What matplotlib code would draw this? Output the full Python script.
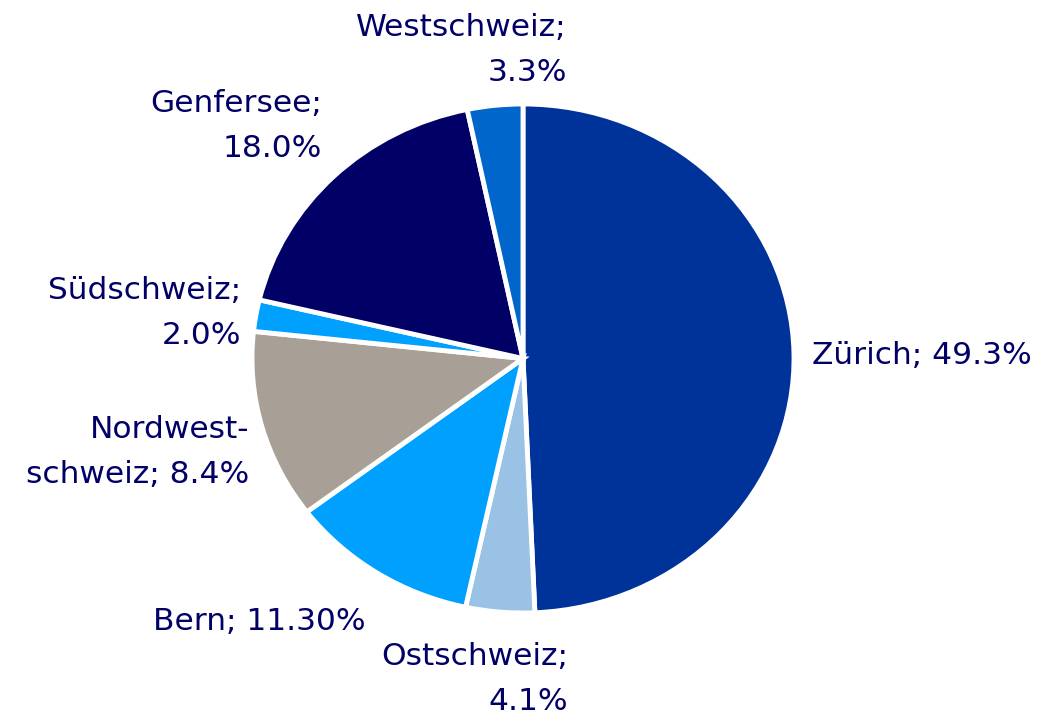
import matplotlib
matplotlib.use('Agg')
import matplotlib.pyplot as plt

# slice values (drawn) and the label texts as printed on the chart
regions = ['Zürich', 'Ostschweiz', 'Bern', 'Nordwestschweiz', 'Südschweiz', 'Genfersee', 'Westschweiz']
shares = [49.3, 4.1, 11.3, 12.0, 2.0, 18.0, 3.3]
label_texts = ['Zürich; 49.3%', 'Ostschweiz;\n4.1%', 'Bern; 11.30%', 'Nordwest-\nschweiz; 8.4%',
               'Südschweiz;\n2.0%', 'Genfersee;\n18.0%', 'Westschweiz;\n3.3%']
colors = ['#003399', '#99C2E4', '#00A0FF', '#A8A097', '#00A0FF', '#000066', '#0066CC']

text_color = '#000066'
W, H = 1041, 715

fig = plt.figure(figsize=(W / 100, H / 100), dpi=100)

# pie is slightly wider than tall in the original, so use an auto-aspect axes
cx, cy, rx, ry = 523, 358.5, 271, 254.5
ax = fig.add_axes([(cx - rx) / W, (H - cy - ry) / H, 2 * rx / W, 2 * ry / H])
ax.pie(shares, colors=colors, startangle=90, counterclock=False, radius=1,
       wedgeprops=dict(edgecolor='white', linewidth=3.5))
ax.set_aspect('auto')
ax.set_xlim(-1, 1)
ax.set_ylim(-1, 1)
ax.axis('off')

# label placement in pixels (x, y center, horizontal alignment)
label_pos = [(812, 356, 'left'), (568, 679, 'right'), (153, 621, 'left'), (249, 452, 'right'),
             (241, 313, 'right'), (322, 126, 'right'), (567, 50, 'right')]

for txt, (px, py, ha) in zip(label_texts, label_pos):
    fig.text(px / W, 1 - py / H, txt, ha=ha, va='center', multialignment='right',
             fontsize=22.5, color=text_color, family='DejaVu Sans', linespacing=1.7)

fig.savefig('out.png', dpi=100)
